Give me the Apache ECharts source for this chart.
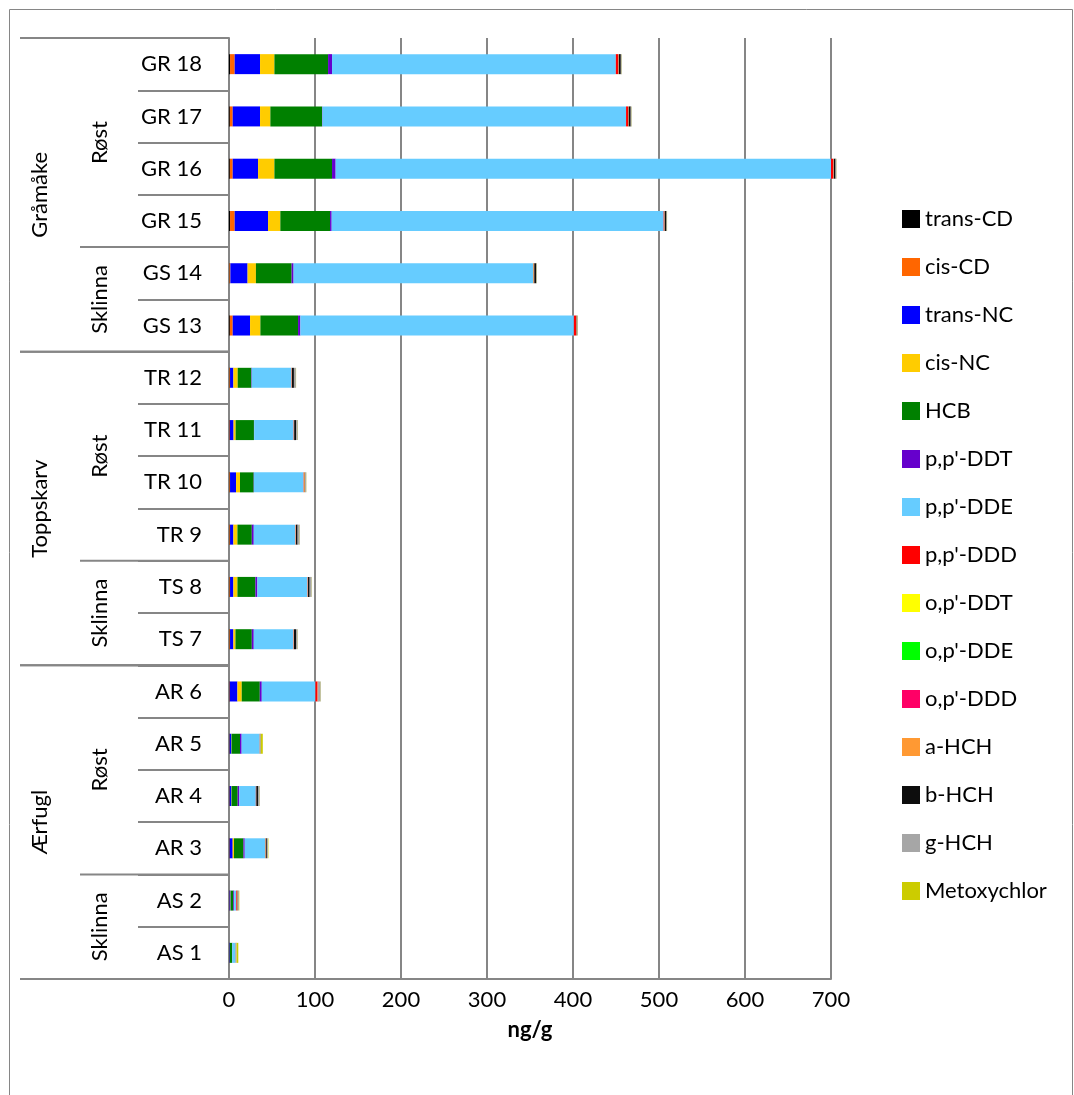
<!DOCTYPE html>
<html>
<head>
<meta charset="utf-8">
<script src="https://cdn.jsdelivr.net/npm/echarts@6/dist/echarts.min.js"></script>
<style>
html, body { margin: 0; padding: 0; background: #fff; }
#chart { width: 1074px; height: 1095px; }
</style>
</head>
<body>
<div id="chart"></div>
<script>
// prøver, nederst til øverst
const samples = ['AS 1', 'AS 2', 'AR 3', 'AR 4', 'AR 5', 'AR 6', 'TS 7', 'TS 8', 'TR 9', 'TR 10',
    'TR 11', 'TR 12', 'GS 13', 'GS 14', 'GR 15', 'GR 16', 'GR 17', 'GR 18'];

// art -> sted (indekser i samples)
const species = [
    { name: 'Ærfugl', from: 0, to: 5 },
    { name: 'Toppskarv', from: 6, to: 11 },
    { name: 'Gråmåke', from: 12, to: 17 }
];
const places = [
    { name: 'Sklinna', from: 0, to: 1 },
    { name: 'Røst', from: 2, to: 5 },
    { name: 'Sklinna', from: 6, to: 7 },
    { name: 'Røst', from: 8, to: 11 },
    { name: 'Sklinna', from: 12, to: 13 },
    { name: 'Røst', from: 14, to: 17 }
];

const xTicks = [0, 100, 200, 300, 400, 500, 600, 700];

// ng/g
const transCD   = [0.3, 0.4, 0.5, 0.5, 0.5, 0.5, 0.6, 0.6, 0.6, 0.6, 0.5, 0.6, 1.0, 0.6, 1.2, 1.0, 1.0, 1.2];
const cisCD     = [0.2, 0.3, 0.3, 0.3, 0.3, 0.4, 0.6, 0.6, 0.6, 0.6, 0.5, 0.6, 3.3, 1.0, 5.4, 3.3, 3.3, 5.4];
const transNC   = [0.5, 1.0, 3.5, 1.9, 1.9, 8.9, 3.9, 3.9, 3.9, 7.0, 4.3, 3.9, 20.2, 20.0, 38.8, 29.5, 31.8, 29.5];
const cisNC     = [0.0, 0.3, 1.5, 0.3, 0.3, 5.0, 2.4, 4.7, 4.7, 4.6, 2.4, 5.0, 12.0, 9.7, 14.3, 19.0, 12.0, 16.7];
const HCB       = [2.5, 3.0, 11.0, 7.1, 9.8, 21.0, 19.0, 20.9, 16.7, 15.9, 21.3, 15.9, 43.8, 41.5, 57.8, 67.0, 60.1, 62.4];
const ppDDT     = [0.3, 1.0, 1.5, 1.9, 1.9, 2.3, 2.3, 2.3, 2.3, 0.3, 0.3, 0.5, 2.7, 2.3, 1.9, 4.2, 0.5, 4.6];
const ppDDE     = [4.0, 2.5, 24.0, 19.2, 21.0, 62.4, 46.1, 58.2, 48.4, 57.7, 45.8, 46.0, 318.0, 278.7, 386.0, 576.0, 353.0, 330.0];
const ppDDD     = [0.2, 0.8, 0.5, 0.3, 0.2, 2.3, 0.3, 0.3, 0.3, 0.3, 0.3, 0.3, 2.5, 0.5, 0.5, 2.5, 2.3, 2.7];
const opDDT     = [0.1, 0.1, 0.1, 0.1, 0.1, 0.1, 0.1, 0.1, 0.1, 0.1, 0.1, 0.1, 0.2, 0.2, 0.2, 0.2, 0.2, 0.2];
const opDDE     = [0.0, 0.1, 0.1, 0.0, 0.0, 0.1, 0.0, 0.0, 0.0, 0.0, 0.0, 0.0, 0.1, 0.1, 0.1, 0.1, 0.1, 0.1];
const opDDD     = [0.1, 0.2, 0.1, 0.1, 0.1, 0.3, 0.1, 0.1, 0.1, 0.1, 0.1, 0.1, 0.3, 0.2, 0.3, 0.3, 0.3, 0.3];
const aHCH      = [0.1, 0.5, 0.2, 0.1, 0.1, 0.3, 0.2, 0.2, 0.2, 1.0, 0.2, 0.2, 0.2, 0.2, 0.2, 0.2, 0.2, 0.2];
const bHCH      = [0.0, 0.3, 1.0, 1.9, 0.3, 0.3, 2.3, 1.9, 1.9, 0.3, 2.3, 2.3, 0.3, 2.3, 2.0, 2.0, 2.3, 2.3];
const gHCH      = [0.5, 1.0, 1.0, 2.0, 0.5, 2.7, 1.9, 2.3, 2.4, 1.3, 1.9, 2.3, 1.0, 0.5, 0.5, 1.0, 1.0, 1.0];
const metoxy    = [2.0, 0.5, 0.5, 0.2, 2.3, 0.2, 0.2, 0.2, 0.2, 0.2, 0.2, 0.2, 0.2, 0.2, 0.2, 0.2, 0.2, 0.2];

const seriesNames = ['trans-CD', 'cis-CD', 'trans-NC', 'cis-NC', 'HCB', "p,p'-DDT", "p,p'-DDE", "p,p'-DDD",
    "o,p'-DDT", "o,p'-DDE", "o,p'-DDD", 'a-HCH', 'b-HCH', 'g-HCH', 'Metoxychlor'];
const seriesData = [transCD, cisCD, transNC, cisNC, HCB, ppDDT, ppDDE, ppDDD,
    opDDT, opDDE, opDDD, aHCH, bHCH, gHCH, metoxy];
const seriesColors = ['#000000', '#ff6600', '#0000ff', '#ffcc00', '#008000', '#6600cc', '#66ccff', '#ff0000',
    '#ffff00', '#00ff00', '#ff0066', '#ff9933', '#0d0d0d', '#a6a6a6', '#cccc00'];

const font = 'Lato, "Open Sans", sans-serif';
const grey = '#868686';

const chart = echarts.init(document.getElementById('chart'));

let option = {
    backgroundColor: '#fff',
    animation: false,
    textStyle: { fontFamily: font, color: '#000' },
    grid: {
        left: 229,
        right: 243,
        top: 38,
        bottom: 116
    },
    legend: {
        orient: 'vertical',
        left: 902,
        top: 208,
        padding: 0,
        itemWidth: 18,
        itemHeight: 18,
        itemGap: 26,
        icon: 'rect',
        textStyle: { fontFamily: font, fontSize: 22, color: '#000' },
        data: seriesNames
    },
    xAxis: {
        type: 'value',
        min: xTicks[0],
        max: xTicks[xTicks.length - 1],
        interval: xTicks[1] - xTicks[0],
        name: 'ng/g',
        nameLocation: 'middle',
        nameGap: 40,
        nameTextStyle: { fontFamily: font, fontSize: 22, fontWeight: 'bold', color: '#000' },
        axisLine: { show: true, lineStyle: { color: grey, width: 2 } },
        axisTick: { show: false },
        axisLabel: { fontFamily: font, fontSize: 22, color: '#000', margin: 10 },
        splitLine: { show: true, lineStyle: { color: grey, width: 2 } }
    },
    yAxis: {
        type: 'category',
        data: samples,
        axisLine: { show: true, lineStyle: { color: grey, width: 2 } },
        axisTick: { show: true, length: 91, interval: 0, lineStyle: { color: grey, width: 2 } },
        axisLabel: { fontFamily: font, fontSize: 22, color: '#000', margin: 27, interval: 0 },
        splitLine: { show: false }
    },
    series: seriesNames.map((name, i) => ({
        name: name,
        type: 'bar',
        stack: 'total',
        barWidth: 20,
        clip: false,
        data: seriesData[i],
        itemStyle: { color: seriesColors[i] }
    }))
};

chart.setOption(option);

// gruppeetiketter og skillelinjer til venstre for aksen
const axisX = chart.convertToPixel({ xAxisIndex: 0 }, 0);
const centerY = (i) => chart.convertToPixel({ yAxisIndex: 0 }, samples[i]);
const band = Math.abs(centerY(0) - centerY(1));
const lowerEdge = (i) => centerY(i) + band / 2;
const upperEdge = (i) => centerY(i) - band / 2;

let graphics = [];
const hLine = (x1, y) => ({
    type: 'line',
    shape: { x1: x1, y1: y, x2: axisX, y2: y },
    style: { stroke: grey, lineWidth: 2 },
    z: 5
});
const vText = (text, x, y) => ({
    type: 'text',
    x: x,
    y: y,
    rotation: Math.PI / 2,
    style: {
        text: text,
        font: '22px ' + font,
        fill: '#000',
        align: 'center',
        verticalAlign: 'middle'
    },
    z: 5
});

species.forEach(g => {
    graphics.push(hLine(20, upperEdge(g.to)));
    graphics.push(hLine(20, lowerEdge(g.from)));
    graphics.push(vText(g.name, 40, (upperEdge(g.to) + lowerEdge(g.from)) / 2));
});
places.forEach(p => {
    graphics.push(hLine(80, upperEdge(p.to)));
    graphics.push(vText(p.name, 100, (upperEdge(p.to) + lowerEdge(p.from)) / 2));
});

// ramme rundt diagrammet
graphics.push({
    type: 'rect',
    shape: { x: 9.5, y: 9.5, width: 1063, height: 1100 },
    style: { fill: 'none', stroke: grey, lineWidth: 1 },
    z: 0
});

chart.setOption({ graphic: graphics });
</script>
</body>
</html>
